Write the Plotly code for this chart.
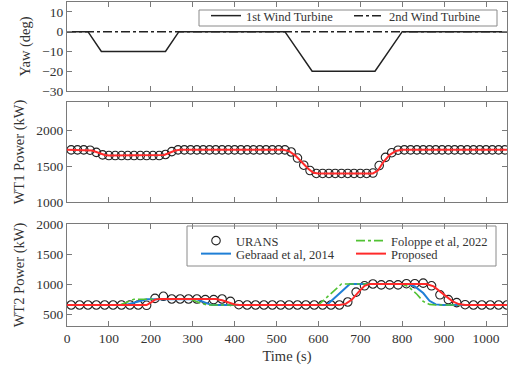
import plotly.graph_objects as go

W, H = 514, 365
def xp(px): return px / W
def yp(px): return 1 - px / H

FONT = "Liberation Serif, Times New Roman, serif"
TXT = "#333333"
AX = "#7a7a7a"

# ---- Yaw schedule ----
yaw_t = [0, 50, 82, 235, 267, 520, 585, 735, 800, 1050]
yaw_wt1 = [0, 0, -10, -10, 0, 0, -20, -20, 0, 0]
yaw2_t = [0, 1050]
yaw_wt2 = [0, 0]

# ---- WT1 power ----
wt1_t = list(range(10, 1050, 15))
wt1_urans = [1730, 1730, 1730, 1725, 1695, 1660, 1650, 1650, 1650, 1650,
             1650, 1650, 1650, 1650, 1650, 1665, 1705, 1730, 1730, 1730,
             1730, 1730, 1730, 1730, 1730, 1730, 1730, 1730, 1730, 1730,
             1730, 1730, 1730, 1730, 1730, 1700, 1615, 1515, 1440, 1400,
             1400, 1400, 1400, 1400, 1400, 1400, 1400, 1400, 1405, 1510,
             1625, 1690, 1725, 1730, 1730, 1730, 1730, 1730, 1730, 1730,
             1730, 1730, 1730, 1730, 1730, 1730, 1730, 1730, 1730, 1730]
wt1_prop_t = [0, 45, 60, 75, 90, 100, 220, 232, 245, 258, 270, 515, 530,
              545, 560, 575, 588, 600, 730, 742, 755, 770, 785, 798, 1050]
wt1_prop = [1730, 1730, 1720, 1690, 1658, 1650, 1650, 1658, 1690, 1720,
            1730, 1730, 1712, 1650, 1560, 1470, 1410, 1400, 1400, 1440,
            1560, 1660, 1715, 1730, 1730]

# ---- WT2 power ----
wt2_t = list(range(10, 1051, 20))
wt2_urans = [650, 650, 650, 650, 650, 650, 650, 650, 650, 645,
             760, 795, 750, 750, 750, 750, 740, 740, 750, 710,
             655, 650, 650, 650, 650, 650, 650, 650, 650, 650,
             650, 650, 650, 700, 865, 970, 1000, 985, 985, 985,
             1005, 1005, 1015, 970, 820, 740, 690, 655, 650, 650,
             650, 650, 650]
geb_t = [0, 140, 190, 310, 330, 345, 620, 675, 815, 830, 850, 865, 880, 895, 1050]
geb_v = [650, 650, 745, 745, 690, 650, 650, 1000, 1000, 960, 850, 720, 660, 650, 650]
fol_t = [0, 125, 160, 295, 315, 335, 600, 655, 800, 815, 835, 850, 865, 880, 1050]
fol_v = [650, 650, 745, 745, 690, 650, 650, 1000, 1000, 955, 830, 710, 660, 650, 650]
prop_t = [0, 190, 200, 210, 222, 355, 370, 385, 400, 412, 650, 665, 680, 695,
          710, 722, 858, 875, 890, 905, 920, 935, 950, 1050]
prop_v = [650, 650, 690, 740, 752, 750, 730, 695, 660, 650, 650, 668, 740,
          860, 970, 1000, 1000, 960, 880, 790, 710, 665, 650, 650]

fig = go.Figure()

# Panel 1 (2nd drawn first so the solid line sits on top)
fig.add_trace(go.Scatter(x=yaw2_t, y=yaw_wt2, mode="lines", name="2nd Wind Turbine",
                         line=dict(color="#222222", width=1.5, dash="dashdot"),
                         xaxis="x", yaxis="y", legend="legend", legendrank=2))
fig.add_trace(go.Scatter(x=yaw_t, y=yaw_wt1, mode="lines", name="1st Wind Turbine",
                         line=dict(color="#222222", width=1.5), xaxis="x", yaxis="y",
                         legend="legend", legendrank=1))

# Panel 2
fig.add_trace(go.Scatter(x=wt1_t, y=wt1_urans, mode="markers", showlegend=False,
                         marker=dict(symbol="circle-open", size=8.5, color="#222222",
                                     line=dict(width=1.1)),
                         xaxis="x2", yaxis="y2"))
fig.add_trace(go.Scatter(x=wt1_prop_t, y=wt1_prop, mode="lines", showlegend=False,
                         line=dict(color="#ff2a2a", width=2), xaxis="x2", yaxis="y2"))

# Panel 3
fig.add_trace(go.Scatter(x=wt2_t, y=wt2_urans, mode="markers", name="URANS",
                         marker=dict(symbol="circle-open", size=8.5, color="#222222",
                                     line=dict(width=1.1)),
                         xaxis="x3", yaxis="y3", legend="legend2"))
fig.add_trace(go.Scatter(x=geb_t, y=geb_v, mode="lines", name="Gebraad et al, 2014",
                         line=dict(color="#1f7fd6", width=2),
                         xaxis="x3", yaxis="y3", legend="legend3"))
fig.add_trace(go.Scatter(x=fol_t, y=fol_v, mode="lines", name="Foloppe et al, 2022",
                         line=dict(color="#52c234", width=1.6, dash="dashdot"),
                         xaxis="x3", yaxis="y3", legend="legend2"))
fig.add_trace(go.Scatter(x=prop_t, y=prop_v, mode="lines", name="Proposed",
                         line=dict(color="#ff2a2a", width=2),
                         xaxis="x3", yaxis="y3", legend="legend3"))

tickfont = dict(family=FONT, size=13.5, color=TXT)
titlefont = dict(family=FONT, size=14.5, color=TXT)
xdom = [xp(67), xp(507)]

def xax(anchor, show_labels, title=None):
    d = dict(domain=xdom, anchor=anchor, range=[0, 1050], tickmode="array",
             tickvals=list(range(0, 1001, 100)), ticks="inside", ticklen=5,
             tickcolor=AX, showline=True, linecolor=AX, linewidth=1, mirror="ticks",
             showgrid=False, zeroline=False, showticklabels=show_labels,
             tickfont=tickfont, automargin=False)
    if title:
        d["title"] = dict(text=title, font=titlefont, standoff=14)
    return d

def yax(anchor, dom, rng, tickvals, title):
    return dict(domain=dom, anchor=anchor, range=rng, tickmode="array",
                tickvals=tickvals, ticks="inside", ticklen=5, tickcolor=AX,
                showline=True, linecolor=AX, linewidth=1, mirror="ticks",
                showgrid=False, zeroline=False, tickfont=tickfont,
                title=dict(text=title, font=titlefont, standoff=8), automargin=False)

legfont = dict(family=FONT, size=12.5, color=TXT)

fig.update_layout(
    width=W, height=H,
    margin=dict(l=0, r=0, t=0, b=0),
    paper_bgcolor="white", plot_bgcolor="white",
    font=dict(family=FONT, color=TXT),
    xaxis=xax("y", False),
    yaxis=yax("x", [yp(91), yp(2)], [-30, 15], [-30, -20, -10, 0, 10], "Yaw (deg)"),
    xaxis2=xax("y2", False),
    yaxis2=yax("x2", [yp(202), yp(102)], [1000, 2400], [1000, 1500, 2000], "WT1 Power (kW)"),
    xaxis3=xax("y3", True, "Time (s)"),
    yaxis3=yax("x3", [yp(326), yp(224)], [300, 2000], [500, 1000, 1500, 2000], "WT2 Power (kW)"),
    legend=dict(orientation="h", x=xp(206), y=yp(1), xanchor="left", yanchor="top",
                bgcolor="rgba(0,0,0,0)", borderwidth=0, font=legfont,
                entrywidthmode="pixels", entrywidth=98, itemwidth=30,
                traceorder="normal"),
    legend2=dict(orientation="h", x=xp(196), y=yp(226), xanchor="left", yanchor="top",
                 bgcolor="rgba(0,0,0,0)", borderwidth=0, font=legfont,
                 entrywidthmode="pixels", entrywidth=110, itemwidth=30),
    legend3=dict(orientation="h", x=xp(196), y=yp(239), xanchor="left", yanchor="top",
                 bgcolor="rgba(0,0,0,0)", borderwidth=0, font=legfont,
                 entrywidthmode="pixels", entrywidth=110, itemwidth=30),
    shapes=[
        dict(type="rect", xref="paper", yref="paper", x0=xp(199), x1=xp(497),
             y0=yp(26), y1=yp(10), line=dict(color="#8a8a8a", width=1)),
        dict(type="rect", xref="paper", yref="paper", x0=xp(187), x1=xp(496),
             y0=yp(266), y1=yp(226), line=dict(color="#8a8a8a", width=1)),
    ],
)

fig.write_html("out.html", config={"displayModeBar": False},
               post_script="document.body.style.margin='0';")
